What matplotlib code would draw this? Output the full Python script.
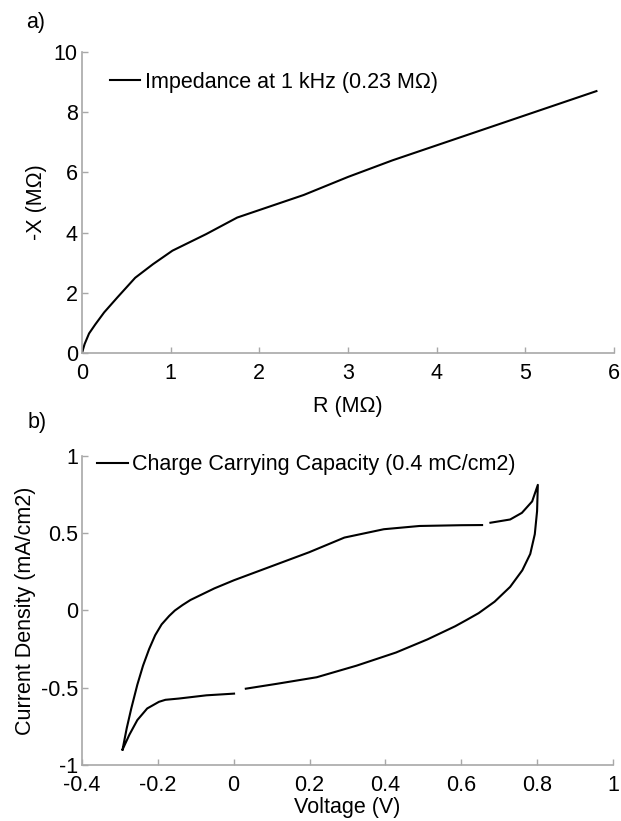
import numpy as np
import matplotlib
matplotlib.use("Agg")
import matplotlib.pyplot as plt

plt.rcParams["font.family"] = ["Liberation Sans", "DejaVu Sans"]

# a) impedance, R vs -X (MOhm)
r_mohm = [0.0, 0.03, 0.08, 0.15, 0.25, 0.4, 0.6, 0.8, 1.02, 1.4, 1.75,
          2.5, 3.0, 3.5, 4.2, 5.0, 5.8]
x_mohm = [0.0, 0.3, 0.65, 0.95, 1.35, 1.85, 2.5, 2.95, 3.4, 3.95, 4.5,
          5.25, 5.85, 6.4, 7.1, 7.9, 8.7]
imp_label = "Impedance at 1 kHz (0.23 M\u03a9)"

# b) cyclic voltammogram, NaN marks the small breaks in the trace
voltage = [-0.293, -0.282, -0.27, -0.254, -0.239, -0.223, -0.207, -0.19,
           -0.17, -0.155, -0.135, -0.114, -0.051, 0.001, 0.094, 0.199,
           0.292, 0.396, 0.49, 0.6, 0.655, np.nan,
           0.677, 0.729, 0.76, 0.787, 0.802,
           0.8, 0.794, 0.782, 0.761, 0.729, 0.688, 0.646, 0.615, 0.584,
           0.511, 0.428, 0.324, 0.219, 0.115, 0.032, np.nan,
           0.001, -0.072, -0.145, -0.18, -0.197, -0.228, -0.254, -0.275,
           -0.293]
current = [-0.90, -0.762, -0.634, -0.48, -0.357, -0.25, -0.16, -0.09,
           -0.035, 0.0, 0.035, 0.068, 0.143, 0.196, 0.281, 0.377,
           0.472, 0.526, 0.547, 0.552, 0.553, np.nan,
           0.568, 0.589, 0.632, 0.706, 0.813,
           0.643, 0.494, 0.366, 0.26, 0.153, 0.057, -0.017, -0.06, -0.102,
           -0.187, -0.272, -0.357, -0.432, -0.474, -0.506, np.nan,
           -0.538, -0.549, -0.570, -0.578, -0.591, -0.634, -0.709, -0.804,
           -0.90]
cv_label = "Charge Carrying Capacity (0.4 mC/cm2)"

AXIS_GREY = "#a8a8a8"
FS = 15.5


def _style(ax):
    for side in ("top", "right"):
        ax.spines[side].set_visible(False)
    for side in ("left", "bottom"):
        ax.spines[side].set_color(AXIS_GREY)
        ax.spines[side].set_linewidth(1.2)
    ax.tick_params(direction="in", length=4, width=1, color=AXIS_GREY,
                   labelsize=FS)
    ax.tick_params(axis="x", pad=7)
    ax.tick_params(axis="y", pad=3)


fig = plt.figure(figsize=(6.21, 8.21), dpi=100)

ax1 = fig.add_axes([0.132, 0.5700, 0.857, 0.3667])
ax1.plot(r_mohm, x_mohm, color="black", lw=1.5, label=imp_label)
ax1.set_xlim(0, 6)
ax1.set_ylim(0, 10)
ax1.set_xticks(range(0, 7))
ax1.set_yticks(range(0, 11, 2))
ax1.set_xlabel("R (M\u03a9)", fontsize=FS, labelpad=9)
ax1.set_ylabel("-X (M\u03a9)", fontsize=FS, labelpad=5)
_style(ax1)
ax1.legend(loc="upper left", bbox_to_anchor=(0.052, 0.935), frameon=False,
           fontsize=FS, handlelength=1.4, handletextpad=0.25,
           borderaxespad=0, borderpad=0)
fig.text(0.058, 0.973, "a)", fontsize=FS, va="center", ha="center")

ax2 = fig.add_axes([0.132, 0.0682, 0.855, 0.3764])
ax2.plot(voltage, current, color="black", lw=1.5, label=cv_label)
ax2.set_xlim(-0.4, 1)
ax2.set_ylim(-1, 1)
ax2.set_xticks([-0.4, -0.2, 0, 0.2, 0.4, 0.6, 0.8, 1])
ax2.set_xticklabels(["-0.4", "-0.2", "0", "0.2", "0.4", "0.6", "0.8", "1"])
ax2.set_yticks([-1, -0.5, 0, 0.5, 1])
ax2.set_yticklabels(["-1", "-0.5", "0", "0.5", "1"])
ax2.set_xlabel("Voltage (V)", fontsize=FS, labelpad=1)
ax2.set_ylabel("Current Density (mA/cm2)", fontsize=FS, labelpad=3)
_style(ax2)
ax2.legend(loc="upper left", bbox_to_anchor=(0.028, 1.006), frameon=False,
           fontsize=FS, handlelength=1.45, handletextpad=0.2,
           borderaxespad=0, borderpad=0)
fig.text(0.060, 0.485, "b)", fontsize=FS, va="center", ha="center")

fig.savefig("out.png", dpi=100)
